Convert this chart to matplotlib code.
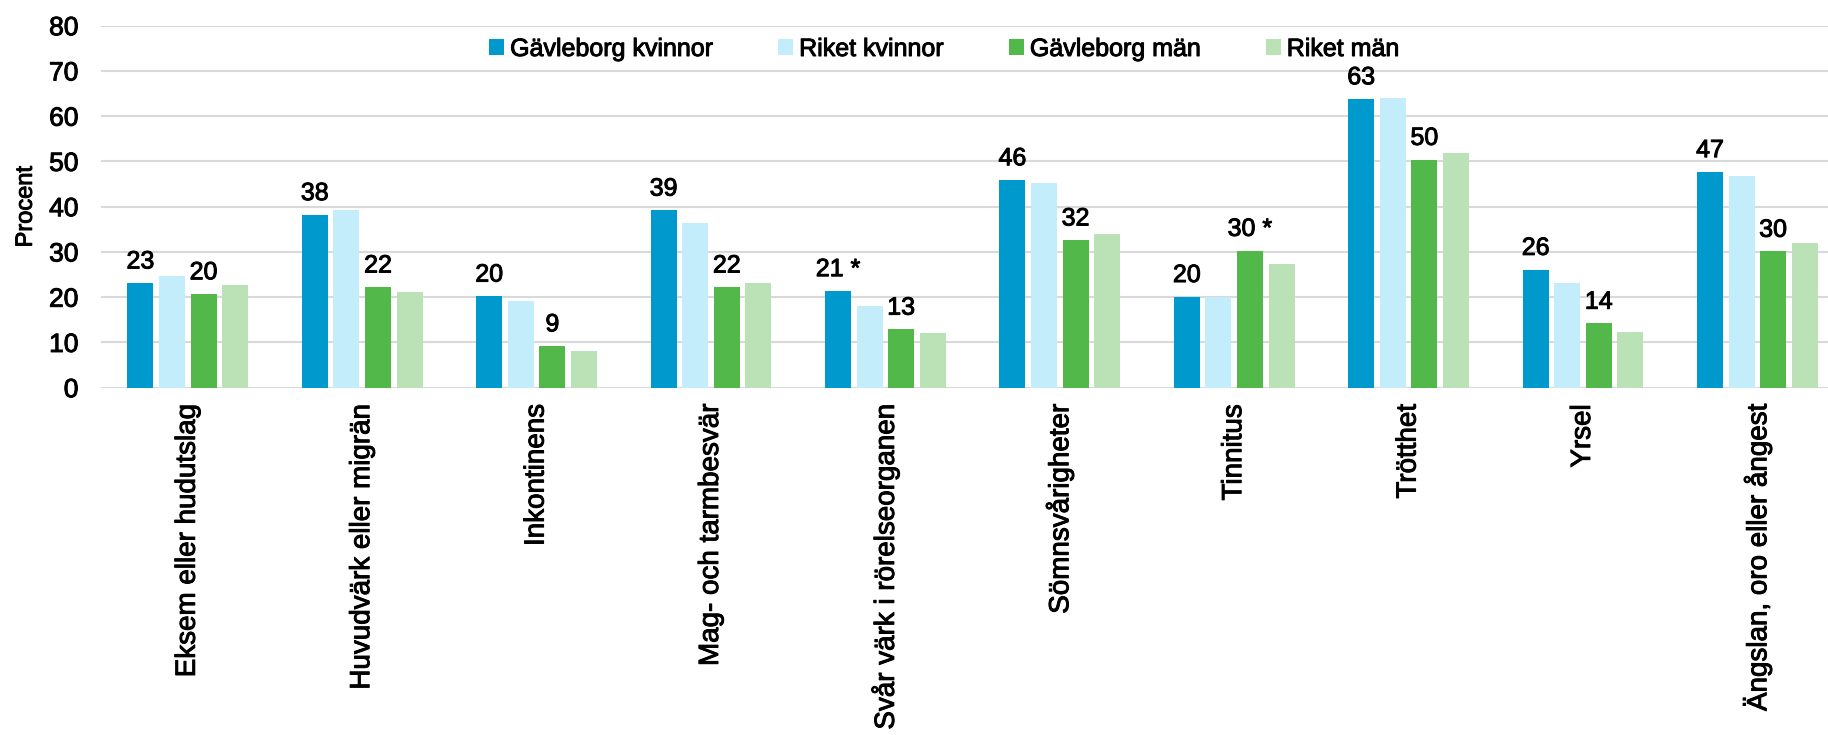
import matplotlib
matplotlib.use("Agg")
import matplotlib.pyplot as plt
import matplotlib.patheffects as pe
import numpy as np

categories = ["Eksem eller hudutslag", "Huvudvärk eller migrän", "Inkontinens",
              "Mag- och tarmbesvär", "Svår värk i rörelseorganen", "Sömnsvårigheter",
              "Tinnitus", "Trötthet", "Yrsel", "Ängslan, oro eller ångest"]
series_names = ["Gävleborg kvinnor", "Riket kvinnor", "Gävleborg män", "Riket män"]
gavleborg_kvinnor = [23.1, 38.2, 20.2, 39.2, 21.4, 45.9, 20.1, 63.8, 26.1, 47.7]
riket_kvinnor = [24.6, 39.2, 19.2, 36.3, 18.1, 45.2, 20.1, 64.0, 23.2, 46.7]
gavleborg_man = [20.7, 22.2, 9.2, 22.2, 12.9, 32.6, 30.3, 50.4, 14.2, 30.1]
riket_man = [22.7, 21.2, 8.2, 23.1, 12.0, 34.0, 27.4, 51.9, 12.3, 32.0]
labels_gk = ["23", "38", "20", "39", "21 *", "46", "20", "63", "26", "47"]
labels_gm = ["20", "22", "9", "22", "13", "32", "30 *", "50", "14", "30"]
yticks = [0, 10, 20, 30, 40, 50, 60, 70, 80]

colors = ["#0099CE", "#C4EDFC", "#52B84A", "#BAE2B6"]

plt.rcParams['font.family'] = ['Liberation Sans', 'DejaVu Sans']
heavy = [pe.withStroke(linewidth=0.7, foreground="black")]

W, H = 1828, 735
fig = plt.figure(figsize=(W / 100, H / 100), dpi=100)
ax_left, ax_right = 100.6, 1844.6
ax_top, ax_bot = 25.7, 387.7
ax = fig.add_axes([ax_left / W, 1 - ax_bot / H, (ax_right - ax_left) / W, (ax_bot - ax_top) / H])

x = np.arange(len(categories))
pitch = 0.181
width = 0.149
data = [gavleborg_kvinnor, riket_kvinnor, gavleborg_man, riket_man]
bars = []
for i, (vals, c, name) in enumerate(zip(data, colors, series_names)):
    b = ax.bar(x + (i - 1.5) * pitch, vals, width, color=c, label=name, zorder=3)
    bars.append(b)

for b, labs in ((bars[0], labels_gk), (bars[2], labels_gm)):
    for rect, lab in zip(b, labs):
        ax.annotate(lab, (rect.get_x() + rect.get_width() / 2, rect.get_height()),
                    xytext=(0, 7), textcoords="offset points", ha="center", va="bottom",
                    fontsize=18, color="black", zorder=4, path_effects=heavy)

ax.set_xlim(-0.5, len(categories) - 0.5)
ax.set_ylim(0, 80)
ax.set_yticks(yticks)
ax.set_yticklabels([str(t) for t in yticks], fontsize=19)
ax.set_xticks(x)
ax.set_xticklabels(categories, rotation=90, fontsize=20, va="top", ha="center")
for t in ax.get_xticklabels() + ax.get_yticklabels():
    t.set_path_effects(heavy)
ax.tick_params(axis="both", length=0)
ax.tick_params(axis="y", pad=16)
ax.tick_params(axis="x", pad=12)
ax.grid(axis="y", color="#D9D9D9", linewidth=1.5, zorder=0)
ax.set_axisbelow(True)
for s in ax.spines.values():
    s.set_visible(False)

fig.text(25.8 / W, 1 - 206.7 / H, "Procent", rotation=90, ha="center", va="center",
         fontsize=17, path_effects=heavy)

leg = fig.legend(handles=bars, labels=series_names, loc="center", bbox_to_anchor=(944 / W, 1 - 49 / H),
                 ncol=4, frameon=False, fontsize=18, handlelength=0.6, handleheight=0.6,
                 handletextpad=0.25, columnspacing=2.6, borderpad=0)
for t in leg.get_texts():
    t.set_path_effects(heavy)

fig.savefig("out.png", dpi=100)
